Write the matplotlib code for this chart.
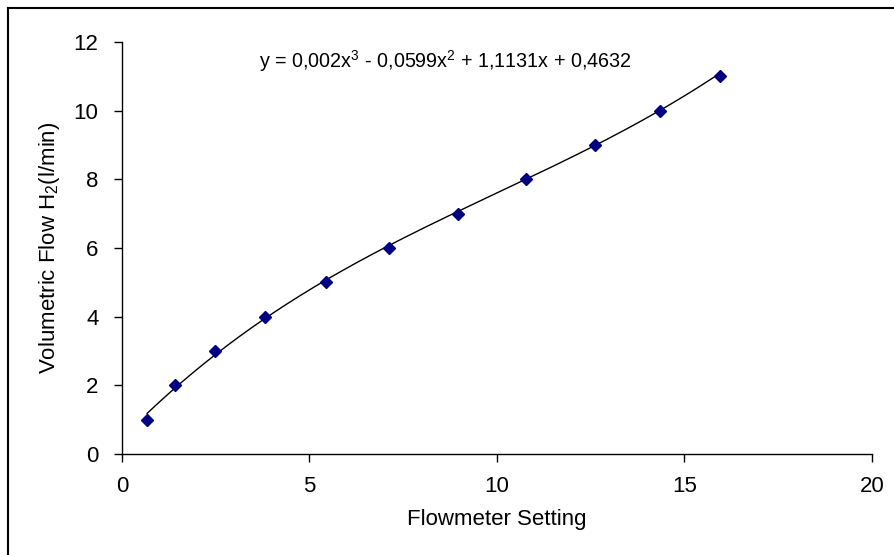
import numpy as np
import matplotlib
matplotlib.use("Agg")
import matplotlib.pyplot as plt
from matplotlib.lines import Line2D

# Calibration data: flowmeter setting vs measured H2 flow
setting = [0.67, 1.41, 2.48, 3.81, 5.44, 7.12, 8.96, 10.77, 12.61, 14.35, 15.95]
flow = [1, 2, 3, 4, 5, 6, 7, 8, 9, 10, 11]

# Cubic trendline coefficients (highest power first)
coef = [0.002, -0.0599, 1.1131, 0.4632]
x_ticks = [0, 5, 10, 15, 20]
y_ticks = [0, 2, 4, 6, 8, 10, 12]

plt.rcParams['font.family'] = ['Liberation Sans', 'DejaVu Sans']
plt.rcParams['mathtext.fontset'] = 'custom'
plt.rcParams['mathtext.rm'] = 'Liberation Sans'
plt.rcParams['mathtext.it'] = 'Liberation Sans'
plt.rcParams['mathtext.default'] = 'rm'

fig = plt.figure(figsize=(8.95, 5.55), dpi=100)
ax = fig.add_axes([122 / 895, 1 - 454 / 555, 750 / 895, 412 / 555])

xs = np.linspace(min(setting), max(setting), 300)
ax.plot(xs, np.polyval(coef, xs), color='black', lw=1.0, zorder=2)
ax.plot(setting, flow, linestyle='none', marker='D', markersize=6.5,
        color='#000080', zorder=3)

ax.set_xlim(0, 20)
ax.set_ylim(0, 12)
ax.set_xticks(x_ticks)
ax.set_yticks(y_ticks)
for s in ('top', 'right'):
    ax.spines[s].set_visible(False)
for s in ('left', 'bottom'):
    ax.spines[s].set_linewidth(1.0)
ax.tick_params(direction='out', length=6, width=1.0, labelsize=16)
ax.tick_params(axis='x', pad=10)
ax.tick_params(axis='y', pad=11)

ax.set_xlabel('Flowmeter Setting', fontsize=16)
ax.xaxis.set_label_coords(0.5, -0.1335)
ax.set_ylabel('Volumetric Flow H$_2$(l/min)', fontsize=16)
ax.yaxis.set_label_coords(-0.096, 0.5)
ax.yaxis.label.set_verticalalignment('center')

ax.text(8.61, 11.45,
        'y = 0,002x$^3$ - 0,0599x$^2$ + 1,1131x + 0,4632',
        fontsize=14.2, ha='center', va='center')

# Frame around the chart area (top and left edges)
fig.add_artist(Line2D([8 / 895, 1], [1 - 8 / 555, 1 - 8 / 555],
                      transform=fig.transFigure, color='black', lw=1.5))
fig.add_artist(Line2D([8 / 895, 8 / 895], [0, 1 - 8 / 555],
                      transform=fig.transFigure, color='black', lw=1.5))

fig.savefig('out.png', dpi=100)
